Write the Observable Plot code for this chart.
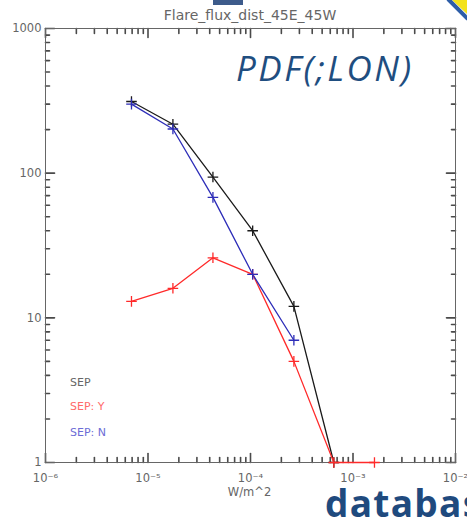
<!DOCTYPE html>
<html>
<head>
<meta charset="utf-8">
<script src="https://cdn.jsdelivr.net/npm/d3@7"></script>
<script src="https://cdn.jsdelivr.net/npm/@observablehq/plot@0.6"></script>
<style>
  html, body { margin: 0; padding: 0; background: #fff; }
  #wrap { position: relative; width: 467px; height: 519px; overflow: hidden; }
  .ov { position: absolute; white-space: nowrap; line-height: 1; font-family: "DejaVu Sans", sans-serif; }
</style>
</head>
<body>
<div id="wrap">
  <div id="chart"></div>
  <div class="ov" style="left:0;width:500px;top:8px;text-align:center;font-size:14px;color:#666;">Flare_flux_dist_45E_45W</div>
  <div class="ov" style="left:0;width:499px;top:487px;text-align:center;font-size:11.5px;color:#666;">W/m^2</div>
  <div class="ov" style="left:70px;top:377px;font-size:11px;color:#666;">SEP</div>
  <div class="ov" style="left:70px;top:401px;font-size:11px;color:#ff6a6a;">SEP: Y</div>
  <div class="ov" style="left:70px;top:427px;font-size:11px;color:#6c6cd6;">SEP: N</div>
  <div class="ov" style="left:236px;top:50px;font-family:'Open Sans',sans-serif;font-style:italic;font-size:35px;letter-spacing:2.5px;color:#1f4e80;">PDF(;LON)</div>
  <div class="ov" style="left:325px;top:484px;font-family:'Open Sans',sans-serif;font-weight:bold;font-size:37px;letter-spacing:1.3px;color:#1f4a7e;">databas</div>
  <div style="position:absolute;left:213px;top:0;width:30px;height:5px;background:#3d5b8b;"></div>
  <svg style="position:absolute;left:440px;top:0" width="27" height="24">
    <polygon points="12,0 27,0 27,14" fill="#f3e21c"/>
    <line x1="8" y1="-1" x2="28" y2="19" stroke="#2e5ea8" stroke-width="4"/>
  </svg>
</div>
<script>
// Bin centres (W/m^2)
const flux = [6.9e-6, 1.75e-5, 4.3e-5, 1.05e-4, 2.65e-4, 6.5e-4, 1.62e-3];
// Counts per series
const sepAll = [313, 218, 94, 40, 12, 1];
const sepYes = [13, 16, 26, 20, 5, 1, 1];
const sepNo  = [300, 202, 68, 20, 7];

const xMajor = [1e-6, 1e-5, 1e-4, 1e-3, 1e-2];
const yMajor = [1, 10, 100, 1000];
const minorMult = [2, 3, 4, 5, 6, 7, 8, 9];
const sup = {"-": "\u207B", "0": "\u2070", "1": "\u00B9", "2": "\u00B2", "3": "\u00B3", "4": "\u2074", "5": "\u2075", "6": "\u2076", "7": "\u2077", "8": "\u2078", "9": "\u2079"};

const xMinor = xMajor.slice(0, -1).flatMap(d => minorMult.map(m => d * m));
const yMinor = yMajor.slice(0, -1).flatMap(d => minorMult.map(m => d * m));

const series = [
  {name: "SEP", values: sepAll, color: "#1a1a1a"},
  {name: "SEP: Y", values: sepYes, color: "#ff2a2a"},
  {name: "SEP: N", values: sepNo, color: "#2d2db8"}
];
const rows = series.flatMap(s => s.values.map((v, i) => ({series: s.name, x: flux[i], y: v, color: s.color})));

const H = 519, W = 467, mt = 28, mb = 57, ml = 45, mr = 12;
const tc = "#4a4a4a";
const xDom = [1e-6, 1e-2], yDom = [1, 1000];

const fmtX = d => "10" + String(Math.round(Math.log10(d))).split("").map(c => sup[c]).join("");

// tick rows: each tick with its value and length (px)
const xTickRows = [...xMajor.map(v => ({v, len: 9})), ...xMinor.map(v => ({v, len: 5}))];
const yTickRows = [...yMajor.map(v => ({v, len: 9})), ...yMinor.map(v => ({v, len: 4}))];

// straight-line vector shape for inward-pointing IDL style ticks
const stick = {draw(context, l) { context.moveTo(0, 0); context.lineTo(0, -l); }};
const tk = {stroke: tc, strokeWidth: 1.6, fill: "none", shape: stick, anchor: "start", length: "len"};
const tickMarks = [
  Plot.vector(xTickRows, {...tk, x: "v", frameAnchor: "bottom", rotate: 0}),
  Plot.vector(xTickRows, {...tk, x: "v", frameAnchor: "top", rotate: 180}),
  Plot.vector(yTickRows, {...tk, y: "v", frameAnchor: "left", rotate: 90}),
  Plot.vector(yTickRows, {...tk, y: "v", frameAnchor: "right", rotate: -90})
];

const chart = Plot.plot({
  width: W, height: H,
  marginTop: mt, marginBottom: mb, marginLeft: ml, marginRight: mr,
  x: {type: "log", domain: xDom},
  y: {type: "log", domain: yDom},
  length: {type: "identity"},
  style: {fontFamily: "DejaVu Sans, sans-serif", fontSize: "11.5px", color: "#666", background: "transparent", overflow: "visible"},
  marks: [
    ...tickMarks,
    Plot.axisX(xMajor, {tickSize: 0, tickPadding: 11, tickFormat: fmtX, label: null}),
    Plot.axisY(yMajor, {tickSize: 0, tickPadding: 4, tickFormat: d => String(d), label: null}),
    Plot.frame({stroke: "#666"}),
    Plot.line(rows, {x: "x", y: "y", z: "series", stroke: "color", strokeWidth: 1.3}),
    Plot.dot(rows, {x: "x", y: "y", symbol: "plus", r: 3.5, stroke: "color", strokeWidth: 1.3})
  ]
});
document.getElementById("chart").appendChild(chart);
</script>
</body>
</html>
